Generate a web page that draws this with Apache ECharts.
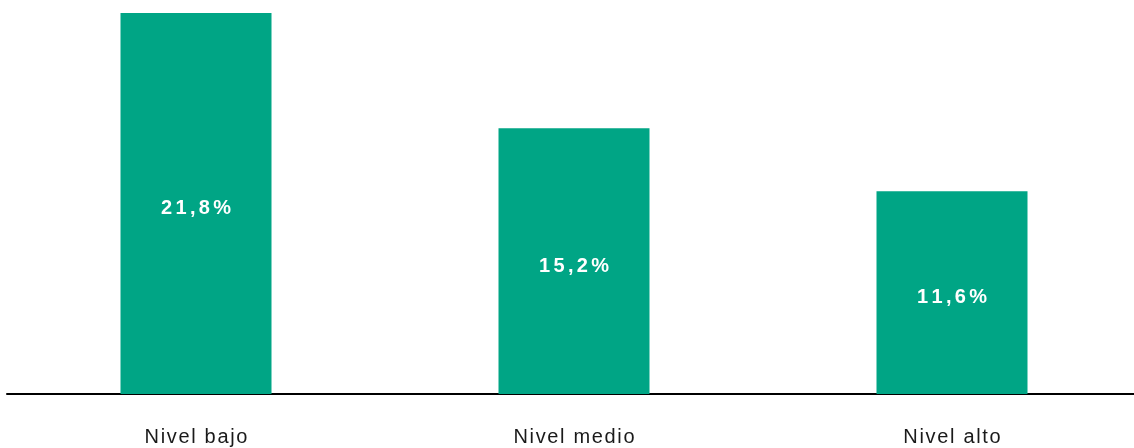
<!DOCTYPE html>
<html>
<head>
<meta charset="utf-8">
<script src="https://cdn.jsdelivr.net/npm/echarts@6/dist/echarts.min.js"></script>
<style>html,body{margin:0;padding:0;background:#fff;}#c{width:1134px;height:448px;}</style>
</head>
<body>
<div id="c"></div>
<script>
const categories = ['Nivel bajo', 'Nivel medio', 'Nivel alto'];
const values = [21.8, 15.2, 11.6];
const valueLabels = ['21,8%', '15,2%', '11,6%'];

const spaced = (s, sep) => s.split('').join(sep);

const chart = echarts.init(document.getElementById('c'));
chart.setOption({
  animation: false,
  grid: { left: 7, right: -7, top: 13, bottom: 54, outerBoundsMode: 'none', containLabel: false },
  xAxis: {
    type: 'category',
    data: categories,
    axisLine: { lineStyle: { color: '#000', width: 2 } },
    axisTick: { show: false },
    axisLabel: {
      color: '#1a1a1a',
      fontSize: 20,
      fontFamily: 'Liberation Sans, Arial, sans-serif',
      margin: 33,
      formatter: v => spaced(v, '\u200A')
    }
  },
  yAxis: {
    type: 'value',
    min: 0,
    max: 21.8,
    show: false,
    splitLine: { show: false }
  },
  series: [{
    type: 'bar',
    data: values,
    barWidth: 151,
    itemStyle: { color: '#00A585' },
    label: {
      show: true,
      position: 'inside',
      offset: [0, 5],
      color: '#fff',
      fontWeight: 'bold',
      fontSize: 20,
      fontFamily: 'Liberation Sans, Arial, sans-serif',
      formatter: p => spaced(valueLabels[p.dataIndex], '\u200A\u200A')
    }
  }]
});
</script>
</body>
</html>
